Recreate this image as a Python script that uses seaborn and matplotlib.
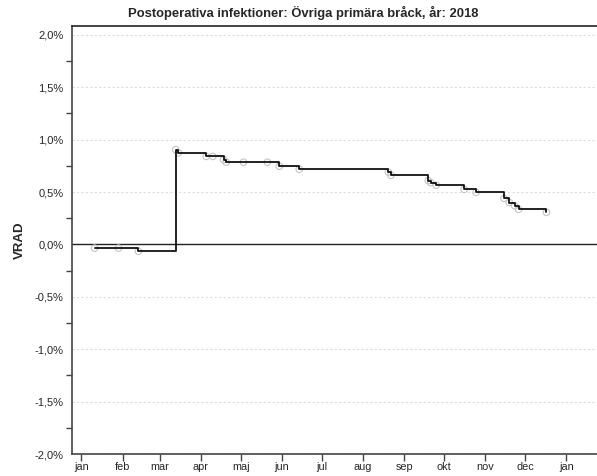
import matplotlib
matplotlib.use("Agg")
import matplotlib.pyplot as plt
import matplotlib.dates as mdates
from matplotlib.ticker import MultipleLocator, FuncFormatter
import seaborn as sns
import pandas as pd

# ---- data ----
event_dates = ["2018-01-11", "2018-01-29", "2018-02-13", "2018-03-13", "2018-03-15",
               "2018-04-05", "2018-04-10", "2018-04-18", "2018-04-20", "2018-05-03",
               "2018-05-21", "2018-05-30", "2018-06-14", "2018-08-20", "2018-08-22",
               "2018-09-19", "2018-09-21", "2018-09-25", "2018-10-16", "2018-10-25",
               "2018-11-15", "2018-11-19", "2018-11-23", "2018-11-26", "2018-12-17"]
vrad_values = [-0.035, -0.035, -0.065, 0.905, 0.874,
               0.84, 0.84, 0.81, 0.785, 0.785,
               0.785, 0.746, 0.718, 0.69, 0.66,
               0.61, 0.59, 0.565, 0.526, 0.498,
               0.44, 0.40, 0.37, 0.335, 0.306]
month_starts = ["2018-01-01", "2018-02-01", "2018-03-01", "2018-04-01", "2018-05-01",
                "2018-06-01", "2018-07-01", "2018-08-01", "2018-09-01", "2018-10-01",
                "2018-11-01", "2018-12-01", "2019-01-01"]
month_labels = ["jan", "feb", "mar", "apr", "maj", "jun", "jul", "aug", "sep", "okt",
                "nov", "dec", "jan"]
title = "Postoperativa infektioner: Övriga primära bråck, år: 2018"
y_label = "VRAD"

df = pd.DataFrame({"datum": pd.to_datetime(event_dates), "vrad": vrad_values})

sns.set_style("white")
plt.rcParams["font.family"] = ["Liberation Sans", "DejaVu Sans"]

fig = plt.figure(figsize=(5.97, 4.76), dpi=100)
ax = fig.add_axes([0.1206, 0.0462, 0.8794, 0.8992])

# grid lines (dashed) at major y ticks except zero
for yv in [-2.0, -1.5, -1.0, -0.5, 0.5, 1.0, 1.5, 2.0]:
    ax.axhline(yv, color="#dcdcdc", lw=0.8, ls=(0, (2, 2)), zorder=0)
ax.axhline(0, color="#222222", lw=1.0, zorder=1)

sns.scatterplot(data=df, x="datum", y="vrad", ax=ax, s=22, marker="o",
                facecolor="none", edgecolor="#c4c4c4", linewidth=0.8, zorder=2)
sns.lineplot(data=df, x="datum", y="vrad", ax=ax, estimator=None,
             drawstyle="steps-post", color="#111111", lw=1.3, zorder=3)

ax.set_xlim(pd.Timestamp("2017-12-25"), pd.Timestamp("2019-01-24"))
ax.set_ylim(-2.0, 2.085)

ax.set_xticks(pd.to_datetime(month_starts))
ax.set_xticklabels(month_labels, fontsize=7.8)
ax.yaxis.set_major_locator(MultipleLocator(0.5))
ax.yaxis.set_minor_locator(MultipleLocator(0.25))
ax.yaxis.set_major_formatter(FuncFormatter(lambda v, p: f"{v:.1f}%".replace(".", ",")))
ax.tick_params(axis="y", which="major", labelsize=8, length=5, width=1, color="#444444", pad=1)
ax.tick_params(axis="y", which="minor", length=4, width=1, color="#444444", left=True)
ax.tick_params(axis="x", which="major", length=5, width=1, color="#444444", pad=1, bottom=True)

for s in ["left", "bottom", "top"]:
    ax.spines[s].set_color("#444444")
    ax.spines[s].set_linewidth(1.2)
ax.spines["top"].set_color("#222222")
ax.spines["right"].set_visible(False)

ax.set_xlabel("")
ax.set_ylabel(y_label, fontsize=9.5, fontweight="bold", labelpad=6)
fig.text(0.508, 0.972, title, fontsize=9.4, fontweight="bold", ha="center", va="center")

fig.savefig("out.png", dpi=100)
